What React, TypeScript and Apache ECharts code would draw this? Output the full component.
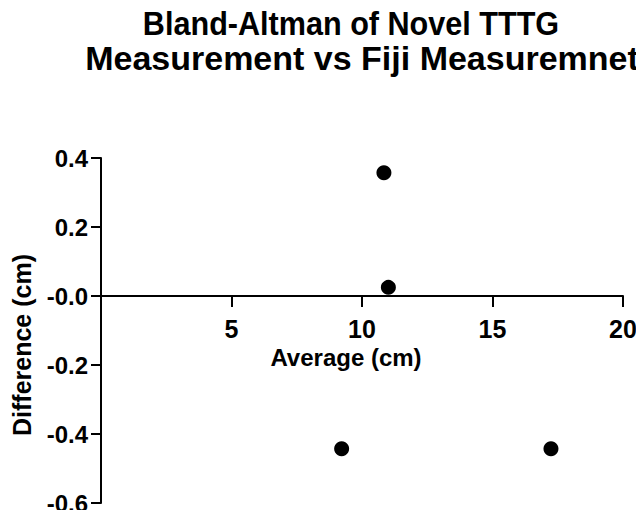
import React, { useEffect, useRef } from "react";
import * as echarts from "echarts";

const titleLine1 = "Bland-Altman of Novel TTTG";
const titleLine2 = "Measurement vs Fiji Measuremnet";
const xName = "Average (cm)";
const yName = "Difference (cm)";
const averages = [10.84, 11.01, 9.22, 17.24];
const differences = [0.357, 0.025, -0.443, -0.443];
const xMin = 0;
const xMax = 20;
const xStep = 5;
const yMin = -0.6;
const yMax = 0.4;
const yStep = 0.2;

const FONT = "'Liberation Sans', Arial, sans-serif";
const W = 644;
const H = 518;
const G = { left: 101, right: 21, top: 158, bottom: 15 };

export default function App() {
  const ref = useRef<HTMLDivElement>(null);
  useEffect(() => {
    if (!ref.current) return;
    const chart = echarts.init(ref.current, null, { renderer: "svg" });
    const gridH = H - G.top - G.bottom;
    const zeroOffset = -gridH * ((0 - yMin) / (yMax - yMin));
    chart.setOption({
      animation: false,
      backgroundColor: "#ffffff",
      grid: { ...G, containLabel: false, outerBoundsMode: "none" },
      xAxis: {
        type: "value",
        min: xMin,
        max: xMax,
        interval: xStep,
        offset: zeroOffset,
        splitLine: { show: false },
        axisLine: { show: true, onZero: false, lineStyle: { color: "#000", width: 2 } },
        axisTick: { show: true, length: 11, lineStyle: { color: "#000", width: 2 } },
        axisLabel: {
          margin: 20,
          fontFamily: FONT,
          fontWeight: "bold",
          fontSize: 25,
          color: "#000",
          formatter: (v: number) => (v === 0 ? "" : String(v)),
        },
      },
      yAxis: {
        type: "value",
        min: yMin,
        max: yMax,
        interval: yStep,
        splitLine: { show: false },
        axisLine: { show: true, onZero: false, lineStyle: { color: "#000", width: 2 } },
        axisTick: { show: true, length: 10, lineStyle: { color: "#000", width: 2 } },
        axisLabel: {
          margin: 13,
          fontFamily: FONT,
          fontWeight: "bold",
          fontSize: 24,
          color: "#000",
          formatter: (v: number) => {
            const r = Math.round(v * 10) / 10;
            if (r === 0) return "-0.0";
            return r.toFixed(1);
          },
        },
      },
      graphic: [
        {
          type: "text",
          x: 351,
          y: 23,
          scaleX: 0.9,
          style: {
            text: titleLine1,
            align: "center",
            verticalAlign: "middle",
            fontFamily: FONT,
            fontWeight: "bold",
            fontSize: 34,
            fill: "#000",
          },
        },
        {
          type: "text",
          x: 362,
          y: 58,
          scaleX: 1.0,
          style: {
            text: titleLine2,
            align: "center",
            verticalAlign: "middle",
            fontFamily: FONT,
            fontWeight: "bold",
            fontSize: 34,
            fill: "#000",
          },
        },
        {
          type: "text",
          x: 346,
          y: 357,
          style: {
            text: xName,
            align: "center",
            verticalAlign: "middle",
            fontFamily: FONT,
            fontWeight: "bold",
            fontSize: 24,
            fill: "#000",
          },
        },
        {
          type: "text",
          x: 22,
          y: 345,
          rotation: Math.PI / 2,
          style: {
            text: yName,
            align: "center",
            verticalAlign: "middle",
            fontFamily: FONT,
            fontWeight: "bold",
            fontSize: 25,
            fill: "#000",
          },
        },
      ],
      series: [
        {
          type: "scatter",
          symbol: "circle",
          symbolSize: 15,
          itemStyle: { color: "#000", opacity: 1 },
          data: averages.map((a, i) => [a, differences[i]]),
        },
      ],
    });
    return () => chart.dispose();
  }, []);
  return <div ref={ref} style={{ width: W, height: H, margin: -8 }} />;
}
